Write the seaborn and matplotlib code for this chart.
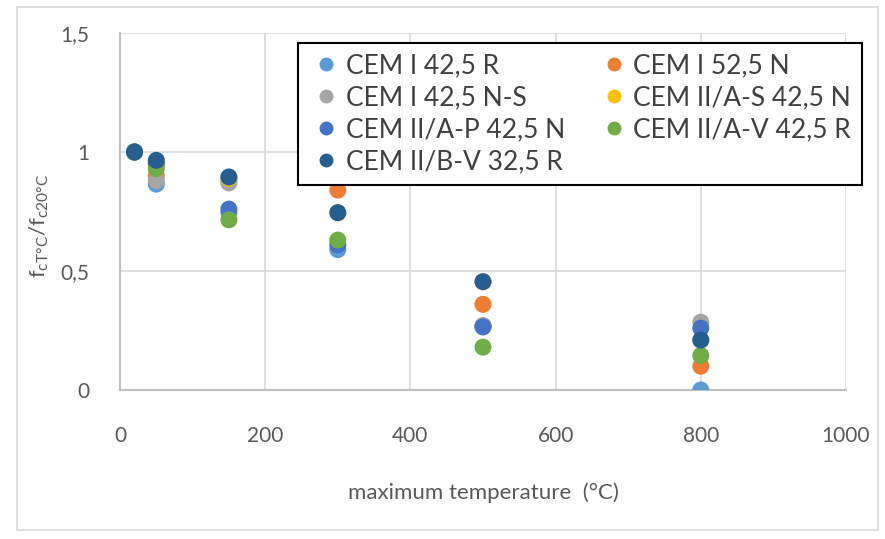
import matplotlib
matplotlib.use("Agg")
import matplotlib.pyplot as plt
import seaborn as sns
import pandas as pd
from matplotlib.patches import Rectangle

# Residual compressive strength ratio after heating, per cement type
temperatures = [20, 50, 150, 300, 500, 800]
cem_i_425_r = [1.00, 0.865, 0.745, 0.59, 0.27, 0.00]
cem_i_525_n = [1.00, 0.90, 0.88, 0.84, 0.36, 0.10]
cem_i_425_ns = [1.00, 0.88, 0.87, 0.90, 0.27, 0.285]
cem_iia_s_425_n = [1.00, 0.95, 0.89, 0.745, 0.455, 0.21]
cem_iia_p_425_n = [1.00, 0.95, 0.76, 0.61, 0.265, 0.26]
cem_iia_v_425_r = [1.00, 0.93, 0.715, 0.63, 0.18, 0.145]
cem_iib_v_325_r = [1.00, 0.965, 0.895, 0.745, 0.455, 0.21]

series_names = ["CEM I 42,5 R", "CEM I 52,5 N", "CEM I 42,5 N-S",
                "CEM II/A-S 42,5 N", "CEM II/A-P 42,5 N",
                "CEM II/A-V 42,5 R", "CEM II/B-V 32,5 R"]
series_values = [cem_i_425_r, cem_i_525_n, cem_i_425_ns, cem_iia_s_425_n,
                 cem_iia_p_425_n, cem_iia_v_425_r, cem_iib_v_325_r]
series_colors = ["#5B9BD5", "#ED7D31", "#A5A5A5", "#FFC000",
                 "#4472C4", "#70AD47", "#255E91"]

x_ticks = [0, 200, 400, 600, 800, 1000]
y_ticks = [0, 0.5, 1, 1.5]
y_tick_labels = ["0", "0,5", "1", "1,5"]

rows = []
for name, vals in zip(series_names, series_values):
    for t, v in zip(temperatures, vals):
        rows.append({"temperature": t, "ratio": v, "cement": name})
df = pd.DataFrame(rows)

sns.set_theme(style="whitegrid")
plt.rcParams["font.family"] = ["Lato", "DejaVu Sans"]
plt.rcParams["mathtext.fontset"] = "custom"
plt.rcParams["mathtext.rm"] = "Lato"
plt.rcParams["mathtext.it"] = "Lato"

fig = plt.figure(figsize=(8.85, 5.39), dpi=100)
fig.patch.set_facecolor("white")
ax = fig.add_axes([120 / 885, 1 - 390 / 539, (846 - 120) / 885, (390 - 33) / 539])

sns.scatterplot(data=df, x="temperature", y="ratio", hue="cement",
                hue_order=series_names,
                palette=dict(zip(series_names, series_colors)),
                s=150, edgecolor="none", linewidth=0, ax=ax, legend=False,
                zorder=3)

ax.set_xlim(0, 1000)
ax.set_ylim(0, 1.5)
ax.set_xticks(x_ticks)
ax.set_xticklabels([str(t) for t in x_ticks])
ax.set_yticks(y_ticks)
ax.set_yticklabels(y_tick_labels)
ax.set_facecolor("white")
ax.grid(True, color="#D9D9D9", linewidth=1.2)
ax.set_axisbelow(True)
for side in ["top", "right"]:
    ax.spines[side].set_visible(False)
for side in ["left", "bottom"]:
    ax.spines[side].set_color("#BFBFBF")
    ax.spines[side].set_linewidth(1.5)
ax.tick_params(axis="x", length=0, pad=26, labelsize=15, labelcolor="#595959")
ax.tick_params(axis="y", length=0, pad=22, labelsize=15, labelcolor="#595959")

ax.set_xlabel("maximum temperature  (°C)", fontsize=16, color="#595959", labelpad=26)
ax.set_ylabel(r"f$_{\mathrm{cT°C}}$/f$_{\mathrm{c20°C}}$", fontsize=16,
              color="#595959")
ax.yaxis.set_label_coords(-0.095, 0.46)

# legend entries run row by row across two columns
order = [0, 2, 4, 6, 1, 3, 5]
handles = [plt.Line2D([0], [0], marker="o", linestyle="none", markersize=10,
                      markerfacecolor=series_colors[i], markeredgecolor="none")
           for i in order]
labels = [series_names[i] for i in order]
leg = fig.legend(handles, labels, ncol=2, loc="upper left",
                 bbox_to_anchor=(298 / 885, 1 - 43 / 539), borderaxespad=0,
                 frameon=True, fancybox=False, fontsize=19,
                 handletextpad=0.1, columnspacing=1.2, labelspacing=0.26,
                 borderpad=0.4, handlelength=1.3)
leg.get_frame().set_edgecolor("black")
leg.get_frame().set_linewidth(1.5)
leg.get_frame().set_facecolor("white")
leg.get_frame().set_alpha(1)
for txt in leg.get_texts():
    txt.set_color("#404040")

fig.patches.append(Rectangle((17 / 885, 1 - 530 / 539), (878 - 17) / 885,
                             (530 - 7) / 539, transform=fig.transFigure,
                             fill=False, edgecolor="#D9D9D9", linewidth=1.2))

fig.savefig("out.png", dpi=100, facecolor="white")
